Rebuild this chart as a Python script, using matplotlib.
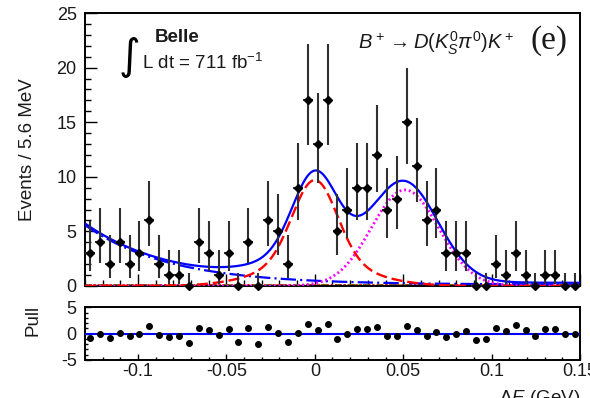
import numpy as np
import matplotlib
matplotlib.use("Agg")
import matplotlib.pyplot as plt
from matplotlib.ticker import MultipleLocator, FixedLocator, FixedFormatter

plt.rcParams['font.family'] = ['Liberation Sans', 'DejaVu Sans']
plt.rcParams['mathtext.fontset'] = 'custom'
plt.rcParams['mathtext.rm'] = 'Liberation Sans'
plt.rcParams['mathtext.it'] = 'Liberation Sans:italic'
plt.rcParams['mathtext.bf'] = 'Liberation Sans:bold'
plt.rcParams['axes.unicode_minus'] = False
plt.rcParams['lines.scale_dashes'] = False

# Delta E binning (GeV)
de_low, de_high = -0.13, 0.15
bin_width = 0.0056

# events per bin
counts = [3, 4, 2, 4, 2, 3, 6, 2, 1, 1,
          0, 4, 3, 1, 3, 0, 4, 0, 6, 5,
          2, 9, 17, 13, 17, 5, 7, 9, 9, 12,
          7, 8, 15, 11, 6, 7, 3, 3, 3, 0,
          0, 2, 1, 3, 1, 0, 1, 1, 0, 0]

# fit pulls per bin
pulls = [-0.75, -0.1, -0.9, 0.2, -0.45, 0.0, 1.45, -0.2, -0.55, -0.45,
         -1.8, 1.15, 0.7, -0.3, 0.8, -1.65, 1.15, -2.0, 1.3, 0.2,
         -1.65, 0.2, 1.75, 0.7, 1.75, -1.05, -0.05, 0.9, 0.8, 1.3,
         -0.45, -0.4, 1.5, 0.7, -0.45, 0.25, -0.55, -0.05, 0.5, -1.3,
         -0.95, 1.15, 0.5, 1.65, 0.7, -0.4, 0.9, 0.9, -0.1, -0.1]

# 68% Poisson intervals (lower, upper) for small counts
poisson_intervals = {
    0: (0.0, 1.148), 1: (0.827, 2.299), 2: (1.292, 2.637), 3: (1.633, 2.918),
    4: (1.914, 3.162), 5: (2.159, 3.382), 6: (2.380, 3.583), 7: (2.581, 3.770),
    8: (2.768, 3.945), 9: (2.943, 4.110), 10: (3.108, 4.266), 11: (3.265, 4.416),
    12: (3.416, 4.559), 13: (3.561, 4.697), 14: (3.702, 4.830), 15: (3.838, 4.958),
    16: (3.971, 5.083), 17: (4.101, 5.203),
}

# fit components
sig_mean = 0.0
sig_core_height, sig_core_sigma = 7.5, 0.0125
sig_tail_height, sig_tail_sigma = 2.2, 0.028
misid_mean, misid_height, misid_sigma = 0.051, 8.8, 0.019
bb_amp, bb_slope, bb_const = 5.45, 21.0, 0.13
cont_level = 0.10
peak_bkg_level = 0.05

centers = de_low + bin_width * (np.arange(len(counts)) + 0.5)
err_lo = [poisson_intervals[n][0] for n in counts]
err_hi = [poisson_intervals[n][1] for n in counts]

xf = np.linspace(de_low, de_high, 600)
gauss = lambda x, m, h, s: h * np.exp(-0.5 * ((x - m) / s) ** 2)
sig = gauss(xf, sig_mean, sig_core_height, sig_core_sigma) + \
      gauss(xf, sig_mean, sig_tail_height, sig_tail_sigma)
misid = gauss(xf, misid_mean, misid_height, misid_sigma)
bb = bb_amp * np.exp(-bb_slope * (xf - de_low)) + bb_const
cont = np.full_like(xf, cont_level)
pbkg = np.full_like(xf, peak_bkg_level)
total = sig + misid + bb + cont + pbkg

W, H = 590, 398
fig = plt.figure(figsize=(W / 100, H / 100), dpi=100)
L, R = 85 / W, 580 / W
ax = fig.add_axes([L, 1 - 286 / H, R - L, (286 - 13) / H])
axp = fig.add_axes([L, 1 - 360 / H, R - L, (360 - 306.7) / H])

txt = '#1a1a1a'
blue = '#0000ff'

ax.plot(xf, cont, color='#00a000', lw=1.3, dashes=(5, 2, 1, 2), zorder=2)
ax.plot(xf, pbkg, color='#ff0000', lw=1.3, dashes=(1.5, 1.5), zorder=2)
ax.plot(xf, bb, color=blue, lw=1.6, dashes=(11, 3, 1.5, 3), zorder=3)
ax.plot(xf, misid, color='#ff00ff', lw=2.0, dashes=(1.4, 2.0), zorder=3)
ax.plot(xf, sig, color='#ff0000', lw=1.7, dashes=(8, 3.5), zorder=3)
ax.plot(xf, total, color=blue, lw=1.6, zorder=4)

ax.errorbar(centers, counts, yerr=[err_lo, err_hi], xerr=bin_width / 2,
            fmt='D', ms=3.8, mfc='k', mec='k', ecolor='#303030',
            elinewidth=1.5, capsize=0, zorder=5, clip_on=False)

ax.set_xlim(de_low, de_high)
ax.set_ylim(0, 25)

axp.plot(centers, pulls, 'o', color='k', ms=4, zorder=5, clip_on=False)
axp.axhline(0, color=blue, lw=1.5, zorder=3)
axp.set_xlim(de_low, de_high)
axp.set_ylim(-5, 5.1)

for a in (ax, axp):
    for s in a.spines.values():
        s.set_linewidth(1.4)
        s.set_color('k')
    a.tick_params(which='both', direction='in', top=False, right=False,
                  colors='k', labelcolor=txt, labelsize=13, width=1.0)
    a.xaxis.set_major_locator(MultipleLocator(0.05))
    a.xaxis.set_minor_locator(MultipleLocator(0.01))

ax.yaxis.set_major_locator(MultipleLocator(5))
ax.yaxis.set_minor_locator(MultipleLocator(1))
ax.tick_params(which='major', length=8.5, pad=6)
ax.tick_params(which='minor', length=4.5)
ax.tick_params(axis='x', labelbottom=False)

axp.yaxis.set_major_locator(MultipleLocator(5))
axp.yaxis.set_minor_locator(MultipleLocator(1))
axp.tick_params(which='major', length=4.5, pad=6)
axp.tick_params(which='minor', length=2.5)
axp.tick_params(axis='x', pad=2)
xt = [-0.1, -0.05, 0, 0.05, 0.1, 0.15]
axp.xaxis.set_major_locator(FixedLocator(xt))
axp.xaxis.set_major_formatter(FixedFormatter(['-0.1', '-0.05', '0', '0.05', '0.1', '0.15']))

fig.text(28 / W, 1 - 150 / H, 'Events / 5.6 MeV', rotation=90, ha='center',
         va='center', fontsize=13.5, color=txt)
fig.text(33 / W, 1 - 320 / H, 'Pull', rotation=90, ha='center', va='center',
         fontsize=13.5, color=txt)
fig.text(580 / W, 1 - 388 / H, r'$\Delta E$ (GeV)', ha='right', va='top',
         fontsize=13.5, color=txt)

fig.text(129 / W, 1 - 57 / H, '\u222b', ha='center', va='center', fontsize=30,
         color='k', family='DejaVu Sans')
fig.text(177 / W, 1 - 37 / H, 'Belle', ha='center', va='center', fontsize=13.5,
         fontweight='bold', color=txt)
fig.text(142 / W, 1 - 63 / H, r'L dt = 711 fb$^{\mathregular{-1}}$', ha='left',
         va='center', fontsize=13.5, color=txt)
fig.text(358 / W, 1 - 43 / H, r'$B^+ \rightarrow D(K^0_S\pi^0)K^+$', ha='left',
         va='center', fontsize=14.5, color=txt)
fig.text(530 / W, 1 - 41 / H, '(e)', ha='left', va='center', fontsize=24,
         family='Liberation Serif', color=txt)

fig.savefig('out.png', dpi=100)
